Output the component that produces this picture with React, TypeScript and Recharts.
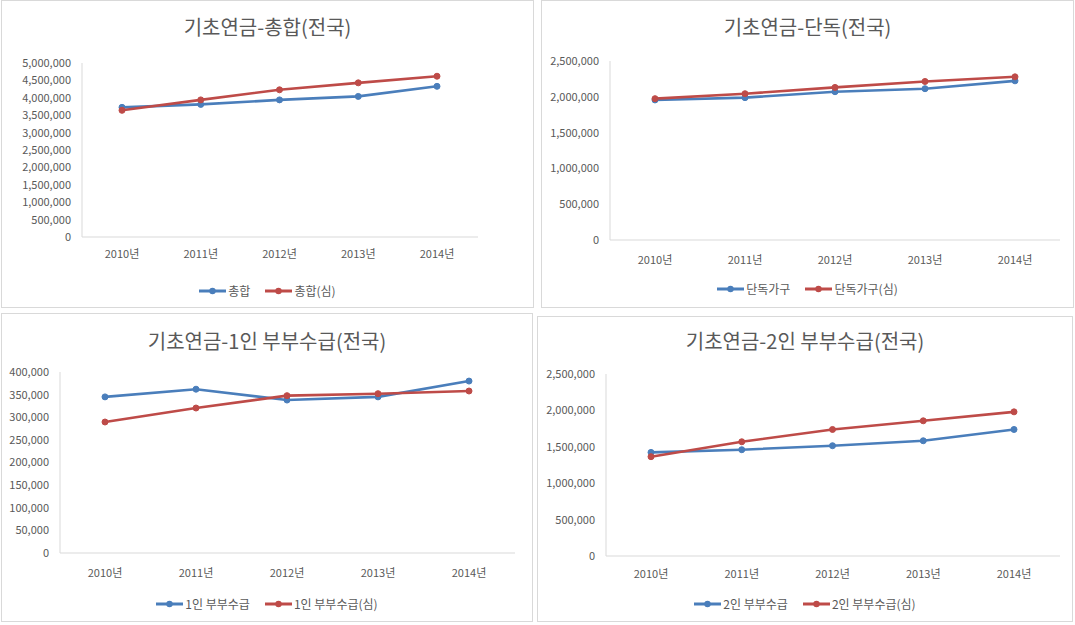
import React from 'react';
import { LineChart, Line, XAxis, YAxis, Legend } from 'recharts';

const years = ['2010년', '2011년', '2012년', '2013년', '2014년'];

const totalBasic = [3726000, 3810000, 3940000, 4040000, 4330000];
const totalSim = [3640000, 3940000, 4230000, 4430000, 4620000];

const singleBasic = [1956000, 1988000, 2071000, 2113000, 2223000];
const singleSim = [1974000, 2043000, 2131000, 2214000, 2279000];

const couple1Basic = [345000, 362000, 338000, 345000, 380000];
const couple1Sim = [289500, 320400, 347700, 352100, 358000];

const couple2Basic = [1423000, 1460000, 1515000, 1583000, 1738000];
const couple2Sim = [1364000, 1569000, 1738000, 1857000, 1980000];

const ticksTotal = [0, 500000, 1000000, 1500000, 2000000, 2500000, 3000000, 3500000, 4000000, 4500000, 5000000];
const ticksSingle = [0, 500000, 1000000, 1500000, 2000000, 2500000];
const ticksCouple1 = [0, 50000, 100000, 150000, 200000, 250000, 300000, 350000, 400000];
const ticksCouple2 = [0, 500000, 1000000, 1500000, 2000000, 2500000];

const BLUE = '#4A7EBB';
const RED = '#BE4B48';
const TEXT = '#595959';
const AXIS = '#D9D9D9';
const FONT = '"Noto Sans CJK KR", "Noto Sans", sans-serif';

const fmt = (v: number) => v.toLocaleString('en-US');

const LegendContent = (props: any) => {
  const items = props.payload || [];
  return (
    <div style={{ display: 'flex', justifyContent: 'center', alignItems: 'center', fontFamily: FONT, fontSize: 12, color: TEXT }}>
      {items.map((it: any, i: number) => (
        <div key={i} style={{ display: 'flex', alignItems: 'center', marginLeft: i === 0 ? 0 : 15 }}>
          <svg width={27} height={10} style={{ marginRight: 2 }}>
            <line x1={0} y1={5} x2={27} y2={5} stroke={it.color} strokeWidth={3} />
            <circle cx={13.5} cy={5} r={3.2} fill={it.color} />
          </svg>
          <span>{it.value}</span>
        </div>
      ))}
    </div>
  );
};

type PanelProps = {
  left: number; top: number; width: number; height: number;
  title: string; titleY: number;
  basic: number[]; sim: number[]; basicName: string; simName: string;
  ticks: number[]; yWidth: number;
  mTop: number; mRight: number; mBottom: number;
  padL: number; padR: number; xMargin: number; legendY: number;
};

const Panel = (p: PanelProps) => {
  const data = years.map((y, i) => ({ year: y, basic: p.basic[i], sim: p.sim[i] }));
  return (
    <div style={{ position: 'absolute', left: p.left, top: p.top, width: p.width, height: p.height, background: '#fff' }}>
      <LineChart width={p.width} height={p.height} data={data}
        margin={{ top: p.mTop, right: p.mRight, bottom: p.mBottom, left: 0 }}>
        <XAxis dataKey="year" stroke={AXIS} tickLine={false} tickSize={0} tickMargin={p.xMargin}
          height={30} interval={0} padding={{ left: p.padL, right: p.padR }}
          tick={{ fill: TEXT, fontSize: 11, fontFamily: FONT }} />
        <YAxis width={p.yWidth} stroke={AXIS} tickLine={false} tickSize={0} tickMargin={11}
          domain={[p.ticks[0], p.ticks[p.ticks.length - 1]]} ticks={p.ticks} interval={0}
          tickFormatter={fmt} tick={{ fill: TEXT, fontSize: 11, fontFamily: FONT }} />
        <Legend verticalAlign="middle" align="center" layout="horizontal" content={LegendContent}
          wrapperStyle={{ top: p.legendY - 9, left: 0, width: p.width }} />
        <Line dataKey="basic" name={p.basicName} stroke={BLUE} strokeWidth={2.6}
          dot={{ r: 3, fill: BLUE, stroke: BLUE, strokeWidth: 1 }} isAnimationActive={false} />
        <Line dataKey="sim" name={p.simName} stroke={RED} strokeWidth={2.6}
          dot={{ r: 3, fill: RED, stroke: RED, strokeWidth: 1 }} isAnimationActive={false} />
      </LineChart>
      <div style={{ position: 'absolute', left: 0, top: p.titleY - 13, width: p.width, textAlign: 'center',
        fontFamily: FONT, fontSize: 20, color: TEXT, lineHeight: '26px', pointerEvents: 'none' }}>{p.title}</div>
      <div style={{ position: 'absolute', left: 0, top: 0, width: p.width, height: p.height,
        border: '1px solid ' + AXIS, boxSizing: 'border-box', pointerEvents: 'none' }} />
    </div>
  );
};

export default function App() {
  return (
    <div style={{ position: 'absolute', left: 0, top: 0, width: 1075, height: 625, background: '#fff', overflow: 'hidden' }}>
      <Panel left={1} top={0} width={533} height={308} title="기초연금-총합(전국)" titleY={27}
        basic={totalBasic} sim={totalSim} basicName="총합" simName="총합(심)"
        ticks={ticksTotal} yWidth={81} mTop={63} mRight={56} mBottom={41}
        padL={40} padR={41} xMargin={13} legendY={291} />
      <Panel left={541} top={0} width={533} height={308} title="기초연금-단독(전국)" titleY={27}
        basic={singleBasic} sim={singleSim} basicName="단독가구" simName="단독가구(심)"
        ticks={ticksSingle} yWidth={69} mTop={61} mRight={14} mBottom={38}
        padL={45} padR={45} xMargin={16} legendY={289} />
      <Panel left={1} top={313} width={532} height={309} title="기초연금-1인 부부수급(전국)" titleY={28}
        basic={couple1Basic} sim={couple1Sim} basicName="1인 부부수급" simName="1인 부부수급(심)"
        ticks={ticksCouple1} yWidth={59} mTop={59} mRight={18} mBottom={39}
        padL={45} padR={46} xMargin={16} legendY={291} />
      <Panel left={537} top={316} width={536} height={306} title="기초연금-2인 부부수급(전국)" titleY={25}
        basic={couple2Basic} sim={couple2Sim} basicName="2인 부부수급" simName="2인 부부수급(심)"
        ticks={ticksCouple2} yWidth={69} mTop={58} mRight={13} mBottom={36}
        padL={45} padR={46} xMargin={14} legendY={288} />
    </div>
  );
}
